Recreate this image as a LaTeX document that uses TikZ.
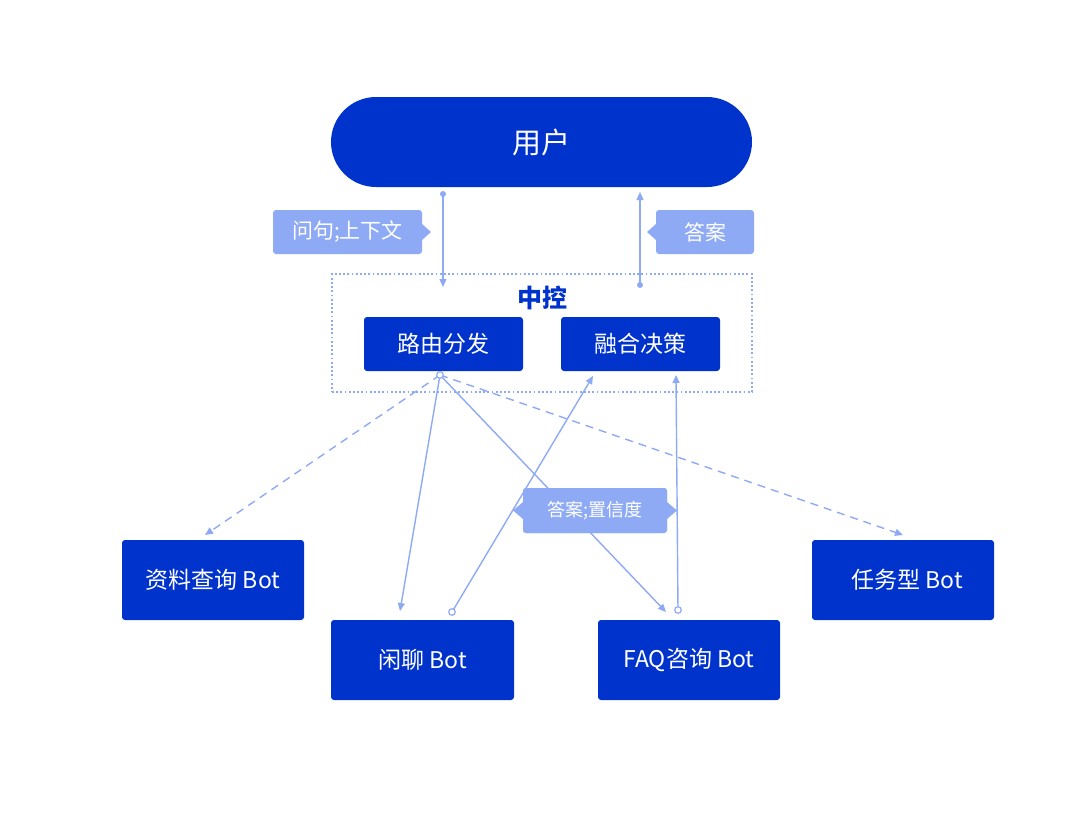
\documentclass[tikz,border=0pt]{standalone}
\usepackage{fontspec}
\setmainfont{Noto Sans CJK SC}
\usetikzlibrary{arrows.meta}
\definecolor{dblue}{RGB}{0,51,204}
\definecolor{lblue}{RGB}{143,170,245}
\begin{document}
\begin{tikzpicture}[x=1pt,y=-1pt,
  darkbox/.style={fill=dblue, draw=none, rounded corners=3pt, text=white, inner sep=0pt},
  tagbox/.style={fill=lblue, draw=none, rounded corners=3pt, text=white, inner sep=0pt},
  conn/.style={draw=lblue, line width=1.4pt, -{Triangle[length=8pt,width=7pt]}},
  dconn/.style={conn, dash pattern=on 8pt off 6pt},
  opendot/.style={draw=lblue, line width=1.2pt, fill=white},
]
\useasboundingbox (0,0) rectangle (1080,838);

% user
\node[darkbox, rounded corners=45pt, minimum width=421pt, minimum height=90pt, font=\fontsize{29}{33}\selectfont] (user) at (541.5,142) {用户};

% tags
\node[tagbox, minimum width=149pt, minimum height=44pt, font=\fontsize{21}{25}\selectfont] (qtag) at (347.5,232) {问句;上下文};
\fill[lblue] (422,224) -- (431,232) -- (422,240) -- cycle;
\node[tagbox, minimum width=98pt, minimum height=44pt, font=\fontsize{21}{25}\selectfont] (atag) at (705,232) {答案};
\fill[lblue] (656,224) -- (647,232) -- (656,240) -- cycle;

% central control
\node[draw=lblue, line width=1.8pt, dash pattern=on 1.8pt off 2.4pt, minimum width=420pt, minimum height=118pt, inner sep=0pt] (ctrl) at (542,333) {};
\node[text=dblue, font=\bfseries\fontsize{25}{29}\selectfont] (ctrltitle) at (542,298) {中控};
\node[darkbox, minimum width=159pt, minimum height=54pt, font=\fontsize{23}{27}\selectfont] (route) at (443.5,344) {路由分发};
\node[darkbox, minimum width=159pt, minimum height=54pt, font=\fontsize{23}{27}\selectfont] (fuse) at (640.5,344) {融合决策};

% bots
\node[darkbox, minimum width=182pt, minimum height=80pt, font=\fontsize{23}{27}\selectfont] (docbot) at (213,580) {资料查询 Bot};
\node[darkbox, minimum width=182pt, minimum height=80pt, font=\fontsize{23}{27}\selectfont] (taskbot) at (903,580) {\hspace{8pt}任务型 Bot};
\node[darkbox, minimum width=183pt, minimum height=80pt, font=\fontsize{23}{27}\selectfont] (chatbot) at (422.5,660) {闲聊 Bot};
\node[darkbox, minimum width=182pt, minimum height=80pt, font=\fontsize{23}{27}\selectfont] (faqbot) at (689,660) {FAQ咨询 Bot};

% confidence tag
\node[tagbox, minimum width=144pt, minimum height=45pt, font=\fontsize{18}{22}\selectfont] (ctag) at (595,510.5) {答案;置信度};
\fill[lblue] (523,502) -- (513,510.5) -- (523,519) -- cycle;
\fill[lblue] (667,502) -- (677,510.5) -- (667,519) -- cycle;

% coordinates
\coordinate (uout) at (443,194);
\coordinate (cin) at (443,287);
\coordinate (cout) at (640,285);
\coordinate (uin) at (640,192);
\coordinate (rs) at (440,375);
\coordinate (docin) at (205,535);
\coordinate (taskin) at (903,535);
\coordinate (chatin) at (400,611);
\coordinate (faqin) at (666,612);
\coordinate (chatout) at (452,612);
\coordinate (fusein1) at (593,376);
\coordinate (faqout) at (678,610);
\coordinate (fusein2) at (676,375);

% connectors
\draw[conn] (uout) -- (cin);
\draw[conn] (cout) -- (uin);
\fill[lblue] (uout) circle (3pt);
\fill[lblue] (cout) circle (3pt);

\draw[dconn] (rs) -- (docin);
\draw[dconn] (rs) -- (taskin);
\draw[conn] (rs) -- (chatin);
\draw[conn] (rs) -- (faqin);
\draw[conn] (chatout) -- (fusein1);
\draw[conn] (faqout) -- (fusein2);
\draw[opendot] (rs) circle (3.3pt);
\draw[opendot] (chatout) circle (3.3pt);
\draw[opendot] (faqout) circle (3.3pt);

% redraw tag on top of lines
\node[tagbox, minimum width=144pt, minimum height=45pt, font=\fontsize{18}{22}\selectfont] at (ctag) {答案;置信度};
\end{tikzpicture}
\end{document}
